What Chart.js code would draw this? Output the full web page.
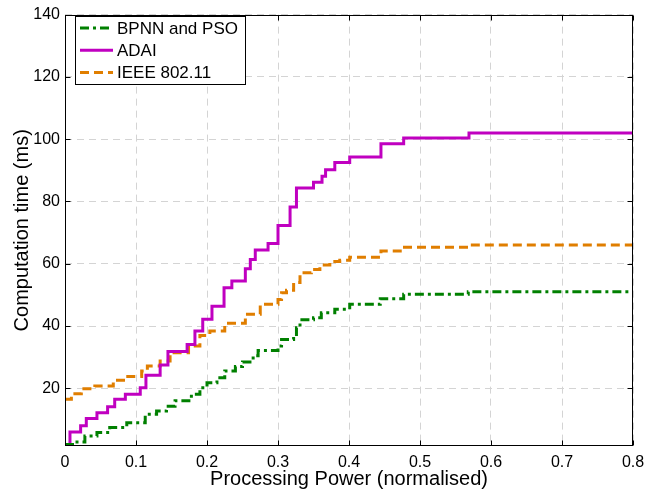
<!DOCTYPE html>
<html lang="en">
<head>
    <meta charset="UTF-8">
    <title>Computation time vs processing power</title>
    <script src="https://cdn.jsdelivr.net/npm/chart.js"></script>
    <style>
        body { margin: 0; background: #fff; }
    </style>
</head>
<body>
    <canvas id="timeChart" width="647" height="491"></canvas>

    <script>
        // tick labels
        const xTicks = [0, 0.1, 0.2, 0.3, 0.4, 0.5, 0.6, 0.7, 0.8];
        const xTickLabels = ['0', '0.1', '0.2', '0.3', '0.4', '0.5', '0.6', '0.7', '0.8'];
        const yTicks = [20, 40, 60, 80, 100, 120, 140];

        const seriesNames = ['BPNN and PSO', 'ADAI', 'IEEE 802.11'];

        // step curves: value holds from x[i] until x[i+1]
        const bpnnX = [0, 0.014, 0.028, 0.045, 0.063, 0.087, 0.113, 0.129, 0.143, 0.155, 0.178, 0.190, 0.200, 0.214, 0.225, 0.240, 0.250, 0.265, 0.272, 0.300, 0.305, 0.322, 0.326, 0.331, 0.350, 0.361, 0.380, 0.401, 0.444, 0.477, 0.568, 0.8];
        const bpnnY = [2.0, 2.8, 4.7, 5.8, 7.4, 9.0, 11.7, 12.7, 14.3, 16.0, 18.1, 20.2, 21.8, 23.4, 25.6, 27.0, 28.5, 30.5, 32.2, 33.6, 35.7, 36.8, 39.5, 42.0, 42.7, 44.3, 45.4, 47.0, 48.8, 50.2, 51.0, 51.0];

        const adaiX = [0, 0.007, 0.022, 0.030, 0.045, 0.060, 0.070, 0.085, 0.106, 0.114, 0.134, 0.145, 0.172, 0.183, 0.194, 0.207, 0.224, 0.235, 0.254, 0.261, 0.268, 0.286, 0.300, 0.317, 0.326, 0.350, 0.362, 0.367, 0.380, 0.401, 0.445, 0.477, 0.569, 0.8];
        const adaiY = [2.0, 6.0, 8.0, 10.3, 12.2, 14.1, 16.5, 18.1, 20.2, 24.2, 27.5, 31.8, 34.1, 38.4, 42.2, 46.4, 52.3, 54.5, 58.4, 61.4, 64.4, 66.5, 72.3, 78.2, 84.3, 86.2, 88.1, 90.2, 92.5, 94.3, 98.5, 100.4, 102.0, 102.0];

        const ieeeX = [0, 0.009, 0.023, 0.042, 0.068, 0.085, 0.108, 0.116, 0.134, 0.148, 0.174, 0.190, 0.204, 0.225, 0.254, 0.275, 0.300, 0.305, 0.312, 0.322, 0.331, 0.347, 0.359, 0.373, 0.387, 0.401, 0.445, 0.476, 0.570, 0.8];
        const ieeeY = [16.5, 18.3, 19.9, 20.8, 22.6, 23.8, 25.6, 27.2, 28.8, 31.4, 33.6, 37.0, 38.4, 40.9, 43.8, 47.0, 48.5, 50.7, 51.5, 54.0, 57.1, 58.2, 59.6, 60.7, 61.1, 62.1, 64.1, 65.3, 66.0, 66.0];

        const FONT = "'Liberation Sans', Arial, sans-serif";

        function toPoints(xs, ys) {
            return xs.map((x, i) => ({ x: x, y: ys[i] }));
        }

        // box around the plot, inward ticks and the legend inside the axes
        const matlabFrame = {
            id: 'matlabFrame',
            afterDraw(chart) {
                const ctx = chart.ctx;
                const a = chart.chartArea;
                const xs = chart.scales.x, ys = chart.scales.y;
                const L = Math.round(a.left) + 0.5, R = Math.round(a.right) - 0.5;
                const T = Math.round(a.top) + 0.5, B = Math.round(a.bottom) - 0.5;
                ctx.save();
                ctx.strokeStyle = '#000';
                ctx.lineWidth = 1;
                ctx.setLineDash([]);
                ctx.strokeRect(L, T, R - L, B - T);
                ctx.beginPath();
                xTicks.forEach(v => {
                    const px = Math.round(xs.getPixelForValue(v)) + 0.5;
                    ctx.moveTo(px, B); ctx.lineTo(px, B - 5);
                    ctx.moveTo(px, T); ctx.lineTo(px, T + 5);
                });
                yTicks.forEach(v => {
                    const py = Math.round(ys.getPixelForValue(v)) + 0.5;
                    ctx.moveTo(L, py); ctx.lineTo(L + 5, py);
                    ctx.moveTo(R, py); ctx.lineTo(R - 5, py);
                });
                ctx.stroke();

                // legend
                const lx = 75.5, ly = 16.5, lw = 170, lh = 68;
                ctx.fillStyle = '#fff';
                ctx.fillRect(lx, ly, lw, lh);
                ctx.strokeRect(lx, ly, lw, lh);
                ctx.font = '17px ' + FONT;
                ctx.textBaseline = 'middle';
                chart.data.datasets.forEach((ds, i) => {
                    const y = 28 + i * 22.3;
                    ctx.strokeStyle = ds.borderColor;
                    ctx.lineWidth = ds.borderWidth;
                    ctx.setLineDash(ds.borderDash || []);
                    ctx.beginPath();
                    ctx.moveTo(80, y); ctx.lineTo(113, y);
                    ctx.stroke();
                    ctx.fillStyle = '#000';
                    ctx.fillText(ds.label, 117, y + 1);
                });
                ctx.restore();
            }
        };

        const ctx = document.getElementById('timeChart').getContext('2d');
        const timeChart = new Chart(ctx, {
            type: 'line',
            data: {
                datasets: [{
                    label: seriesNames[0],
                    data: toPoints(bpnnX, bpnnY),
                    borderColor: '#008000',
                    borderWidth: 3,
                    borderDash: [9, 4, 3, 4],
                    stepped: 'before',
                    pointRadius: 0,
                    fill: false
                }, {
                    label: seriesNames[1],
                    data: toPoints(adaiX, adaiY),
                    borderColor: '#c000c0',
                    borderWidth: 3,
                    stepped: 'before',
                    pointRadius: 0,
                    fill: false
                }, {
                    label: seriesNames[2],
                    data: toPoints(ieeeX, ieeeY),
                    borderColor: '#e07e00',
                    borderWidth: 3,
                    borderDash: [9, 5],
                    stepped: 'before',
                    pointRadius: 0,
                    fill: false
                }]
            },
            options: {
                responsive: false,
                animation: false,
                layout: { padding: { top: 13, right: 14, left: 0, bottom: 0 } },
                plugins: {
                    legend: { display: false },
                    tooltip: { enabled: false }
                },
                scales: {
                    x: {
                        type: 'linear',
                        min: 0,
                        max: 0.8,
                        afterBuildTicks: s => { s.ticks = xTicks.map(v => ({ value: v })); },
                        afterFit: s => { s.height = 45; s.paddingLeft = 0; s.paddingRight = 0; },
                        ticks: {
                            color: '#000',
                            font: { family: FONT, size: 16 },
                            padding: 7,
                            maxRotation: 0,
                            callback: (v, i) => xTickLabels[i]
                        },
                        grid: { color: '#d4d4d4', drawTicks: false },
                        border: { display: false, dash: [7, 5] },
                        title: {
                            display: true,
                            text: 'Processing Power (normalised)',
                            color: '#000',
                            font: { family: FONT, size: 20 },
                            padding: { top: 0, bottom: 0 }
                        }
                    },
                    y: {
                        min: 1.5,
                        max: 140,
                        afterBuildTicks: s => { s.ticks = yTicks.map(v => ({ value: v })); },
                        afterFit: s => { s.width = 65; },
                        ticks: {
                            color: '#000',
                            font: { family: FONT, size: 16 },
                            padding: 5
                        },
                        grid: { color: '#d4d4d4', drawTicks: false },
                        border: { display: false, dash: [7, 5] },
                        title: {
                            display: true,
                            text: 'Computation time (ms)',
                            color: '#000',
                            font: { family: FONT, size: 20 },
                            padding: { top: 10, bottom: 0 }
                        }
                    }
                }
            },
            plugins: [matlabFrame]
        });
    </script>
</body>
</html>
